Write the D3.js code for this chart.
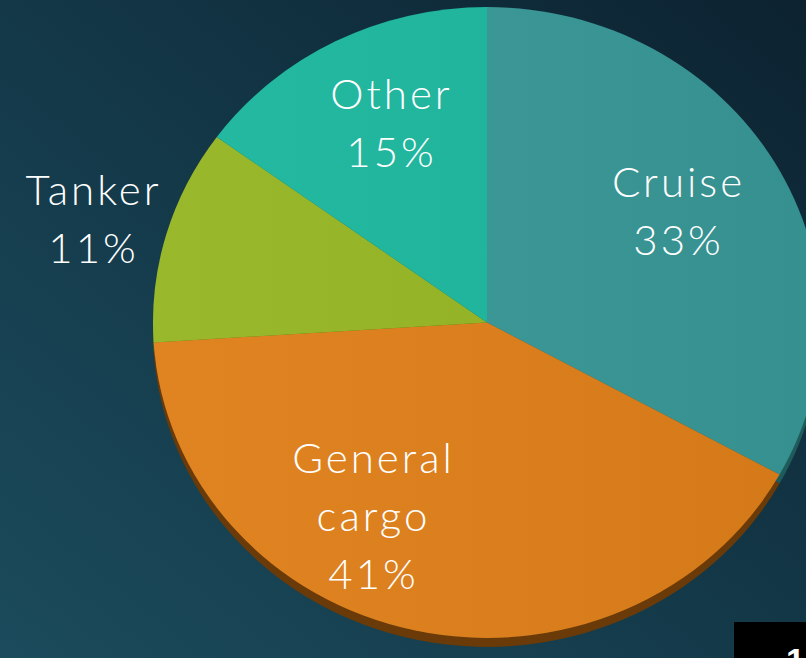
<!DOCTYPE html>
<html>
<head>
<meta charset="utf-8">
<script src="https://cdn.jsdelivr.net/npm/d3@7"></script>
<style>
  html, body { margin: 0; padding: 0; background: #143746; }
  svg { display: block; }
</style>
</head>
<body>
<div id="chart"></div>
<script>
// vessel call shares (%)
const categories = ["Cruise", "General cargo", "Tanker", "Other"];
const shares = [33, 41, 11, 15];
const labelLines = [["Cruise", "33%"], ["General", "cargo", "41%"], ["Tanker", "11%"], ["Other", "15%"]];

const colors = ["#389797", "#df7f19", "#95b522", "#1bb79d"];
const sideColors = ["#1f5b5b", "#6a3a08", "#55690f", "#0f6d5d"];

const width = 806, height = 658;
const cx = 487, cy = 322.5, rx = 334, ry = 315.5, depth = 9;

// where each label block sits (first baseline, relative to pie centre)
const labelAt = {
  "Cruise": [190, -126],
  "General cargo": [-115, 150],
  "Tanker": [-395, -118],
  "Other": [-97, -214]
};
const lineHeight = 58;

const svg = d3.select("#chart")
  .append("svg")
    .attr("width", width)
    .attr("height", height);

const defs = svg.append("defs");
const bg = defs.append("linearGradient")
    .attr("id", "bg")
    .attr("x1", "100%").attr("y1", "0%")
    .attr("x2", "0%").attr("y2", "100%");
bg.append("stop").attr("offset", "0%").attr("stop-color", "#0c2230");
bg.append("stop").attr("offset", "55%").attr("stop-color", "#143a4a");
bg.append("stop").attr("offset", "100%").attr("stop-color", "#1b4b5c");

const shade = defs.append("linearGradient")
    .attr("id", "shade")
    .attr("x1", "0%").attr("y1", "0%")
    .attr("x2", "100%").attr("y2", "0%");
shade.append("stop").attr("offset", "0%").attr("stop-color", "#fff").attr("stop-opacity", 0.04);
shade.append("stop").attr("offset", "100%").attr("stop-color", "#000").attr("stop-opacity", 0.05);

svg.append("rect")
    .attr("width", width)
    .attr("height", height)
    .attr("fill", "url(#bg)");

const pie = d3.pie().sort(null).value(d => d)(shares);
const arc = d3.arc().innerRadius(0).outerRadius(1);

// side of the disc (shifted copy)
svg.append("g")
    .attr("transform", `translate(${cx}, ${cy + depth}) scale(${rx}, ${ry})`)
  .selectAll("path")
  .data(pie)
  .join("path")
    .attr("d", arc)
    .attr("fill", (d, i) => sideColors[i]);

// top face
const face = svg.append("g")
    .attr("transform", `translate(${cx}, ${cy}) scale(${rx}, ${ry})`);
face.selectAll("path")
  .data(pie)
  .join("path")
    .attr("d", arc)
    .attr("fill", (d, i) => colors[i]);
face.append("circle")
    .attr("r", 1)
    .attr("fill", "url(#shade)");

// labels
const labels = svg.append("g")
    .attr("font-family", "Lato, 'Open Sans', sans-serif")
    .attr("font-weight", 300)
    .attr("font-size", 42)
    .attr("letter-spacing", 3)
    .attr("fill", "#ffffff")
    .attr("text-anchor", "middle");

categories.forEach((c, i) => {
  const [dx, dy] = labelAt[c];
  const t = labels.append("text")
      .attr("x", cx + dx)
      .attr("y", cy + dy);
  labelLines[i].forEach((line, j) => {
    t.append("tspan")
        .attr("x", cx + dx + 1.5)
        .attr("dy", j === 0 ? 0 : lineHeight)
        .text(line);
  });
});

// slide number box in the corner
svg.append("rect")
    .attr("x", 734).attr("y", 622)
    .attr("width", 72).attr("height", 36)
    .attr("fill", "#000");
svg.append("text")
    .attr("x", 786).attr("y", 672)
    .attr("font-family", "Liberation Sans, Arial, sans-serif")
    .attr("font-weight", "bold")
    .attr("font-size", 34)
    .attr("fill", "#fff")
    .text("1");
</script>
</body>
</html>
